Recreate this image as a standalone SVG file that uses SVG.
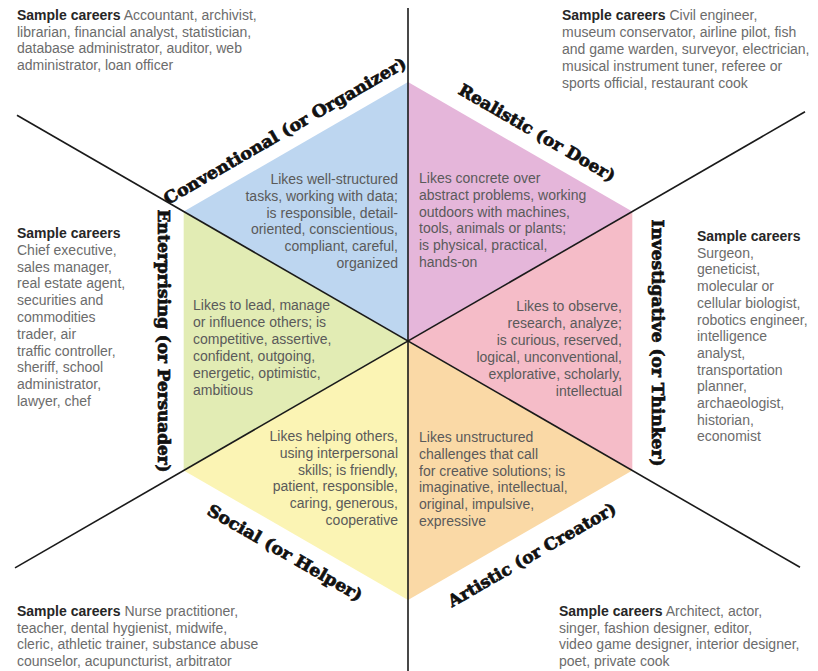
<svg xmlns="http://www.w3.org/2000/svg" width="818" height="671" viewBox="0 0 818 671">
<style>
.bg{fill:#ffffff}
.lbl{font-family:"DejaVu Serif",serif;font-weight:bold;font-size:16.5px;fill:#111;stroke:#111;stroke-width:0.7;text-anchor:middle;dominant-baseline:central}
.desc{font-family:"Liberation Sans",Arial,sans-serif;font-size:14px;fill:#5a5a5a}
.r{text-anchor:end}
.car{font-family:"Liberation Sans",Arial,sans-serif;font-size:14px;fill:#6c6c6c}
.hd{font-weight:bold;fill:#262626}
.ln{stroke:#1a1a1a;stroke-width:1.6;fill:none}
</style>
<rect class="bg" x="0" y="0" width="818" height="671"/>

<g id="conventional">
<polygon points="408,341 183.7,211.5 408,82" fill="#bdd6f0"/>
<text class="lbl" transform="translate(285,131) rotate(-30)" textLength="277" lengthAdjust="spacingAndGlyphs">Conventional (or Organizer)</text>
<text class="desc r"><tspan x="398" y="184">Likes well-structured</tspan><tspan x="398" y="200.8">tasks, working with data;</tspan><tspan x="398" y="217.6">is responsible, detail-</tspan><tspan x="398" y="234.4">oriented, conscientious,</tspan><tspan x="398" y="251.2">compliant, careful,</tspan><tspan x="398" y="268">organized</tspan></text>
</g>

<g id="realistic">
<polygon points="408,341 408,82 632.3,211.5" fill="#e5b6da"/>
<text class="lbl" transform="translate(537,133) rotate(30)" textLength="178" lengthAdjust="spacingAndGlyphs">Realistic (or Doer)</text>
<text class="desc"><tspan x="419" y="183">Likes concrete over</tspan><tspan x="419" y="199.8">abstract problems, working</tspan><tspan x="419" y="216.6">outdoors with machines,</tspan><tspan x="419" y="233.4">tools, animals or plants;</tspan><tspan x="419" y="250.2">is physical, practical,</tspan><tspan x="419" y="267">hands-on</tspan></text>
</g>

<g id="investigative">
<polygon points="408,341 632.3,211.5 632.3,470.5" fill="#f5bcc8"/>
<text class="lbl" transform="translate(657,343) rotate(90)" textLength="247" lengthAdjust="spacingAndGlyphs">Investigative (or Thinker)</text>
<text class="desc r"><tspan x="622" y="311">Likes to observe,</tspan><tspan x="622" y="327.9">research, analyze;</tspan><tspan x="622" y="344.8">is curious, reserved,</tspan><tspan x="622" y="361.7">logical, unconventional,</tspan><tspan x="622" y="378.6">explorative, scholarly,</tspan><tspan x="622" y="395.5">intellectual</tspan></text>
</g>

<g id="artistic">
<polygon points="408,341 632.3,470.5 408,600" fill="#fad9a6"/>
<text class="lbl" transform="translate(532,555) rotate(-30)" textLength="191" lengthAdjust="spacingAndGlyphs">Artistic (or Creator)</text>
<text class="desc"><tspan x="419" y="442">Likes unstructured</tspan><tspan x="419" y="458.8">challenges that call</tspan><tspan x="419" y="475.6">for creative solutions; is</tspan><tspan x="419" y="492.4">imaginative, intellectual,</tspan><tspan x="419" y="509.2">original, impulsive,</tspan><tspan x="419" y="526">expressive</tspan></text>
</g>

<g id="social">
<polygon points="408,341 408,600 183.7,470.5" fill="#fbf4b4"/>
<text class="lbl" transform="translate(285,553) rotate(30)" textLength="176" lengthAdjust="spacingAndGlyphs">Social (or Helper)</text>
<text class="desc r"><tspan x="398" y="441">Likes helping others,</tspan><tspan x="398" y="457.8">using interpersonal</tspan><tspan x="398" y="474.6">skills; is friendly,</tspan><tspan x="398" y="491.4">patient, responsible,</tspan><tspan x="398" y="508.2">caring, generous,</tspan><tspan x="398" y="525">cooperative</tspan></text>
</g>

<g id="enterprising">
<polygon points="408,341 183.7,470.5 183.7,211.5" fill="#e2ecb4"/>
<text class="lbl" transform="translate(163,341) rotate(90)" textLength="263" lengthAdjust="spacingAndGlyphs">Enterprising (or Persuader)</text>
<text class="desc"><tspan x="193" y="310">Likes to lead, manage</tspan><tspan x="193" y="326.9">or influence others; is</tspan><tspan x="193" y="343.8">competitive, assertive,</tspan><tspan x="193" y="360.7">confident, outgoing,</tspan><tspan x="193" y="377.6">energetic, optimistic,</tspan><tspan x="193" y="394.5">ambitious</tspan></text>
</g>

<g id="connectors">
<line class="ln" x1="408" y1="8" x2="408" y2="671"/>
<line class="ln" x1="17" y1="115.3" x2="800" y2="567.3"/>
<line class="ln" x1="805" y1="111.8" x2="15" y2="567.9"/>
</g>

<g id="careers-conventional">
<text class="car"><tspan x="17" y="20"><tspan class="hd">Sample careers</tspan> Accountant, archivist,</tspan><tspan x="17" y="36.5">librarian, financial analyst, statistician,</tspan><tspan x="17" y="53">database administrator, auditor, web</tspan><tspan x="17" y="69.5">administrator, loan officer</tspan></text>
</g>

<g id="careers-realistic">
<text class="car"><tspan x="562" y="20"><tspan class="hd">Sample careers</tspan> Civil engineer,</tspan><tspan x="562" y="37">museum conservator, airline pilot, fish</tspan><tspan x="562" y="54">and game warden, surveyor, electrician,</tspan><tspan x="562" y="71">musical instrument tuner, referee or</tspan><tspan x="562" y="88">sports official, restaurant cook</tspan></text>
</g>

<g id="careers-enterprising">
<text class="car"><tspan x="17" y="238" class="hd">Sample careers</tspan><tspan x="17" y="254.8">Chief executive,</tspan><tspan x="17" y="271.6">sales manager,</tspan><tspan x="17" y="288.4">real estate agent,</tspan><tspan x="17" y="305.2">securities and</tspan><tspan x="17" y="322">commodities</tspan><tspan x="17" y="338.8">trader, air</tspan><tspan x="17" y="355.6">traffic controller,</tspan><tspan x="17" y="372.4">sheriff, school</tspan><tspan x="17" y="389.2">administrator,</tspan><tspan x="17" y="406">lawyer, chef</tspan></text>
</g>

<g id="careers-investigative">
<text class="car"><tspan x="697" y="241" class="hd">Sample careers</tspan><tspan x="697" y="257.7">Surgeon,</tspan><tspan x="697" y="274.4">geneticist,</tspan><tspan x="697" y="291.1">molecular or</tspan><tspan x="697" y="307.8">cellular biologist,</tspan><tspan x="697" y="324.5">robotics engineer,</tspan><tspan x="697" y="341.2">intelligence</tspan><tspan x="697" y="357.9">analyst,</tspan><tspan x="697" y="374.6">transportation</tspan><tspan x="697" y="391.3">planner,</tspan><tspan x="697" y="408">archaeologist,</tspan><tspan x="697" y="424.7">historian,</tspan><tspan x="697" y="441.4">economist</tspan></text>
</g>

<g id="careers-social">
<text class="car"><tspan x="17" y="616"><tspan class="hd">Sample careers</tspan> Nurse practitioner,</tspan><tspan x="17" y="632.7">teacher, dental hygienist, midwife,</tspan><tspan x="17" y="649.4">cleric, athletic trainer, substance abuse</tspan><tspan x="17" y="666">counselor, acupuncturist, arbitrator</tspan></text>
</g>

<g id="careers-artistic">
<text class="car"><tspan x="559" y="616"><tspan class="hd">Sample careers</tspan> Architect, actor,</tspan><tspan x="559" y="632.7">singer, fashion designer, editor,</tspan><tspan x="559" y="649.4">video game designer, interior designer,</tspan><tspan x="559" y="666">poet, private cook</tspan></text>
</g>
</svg>
